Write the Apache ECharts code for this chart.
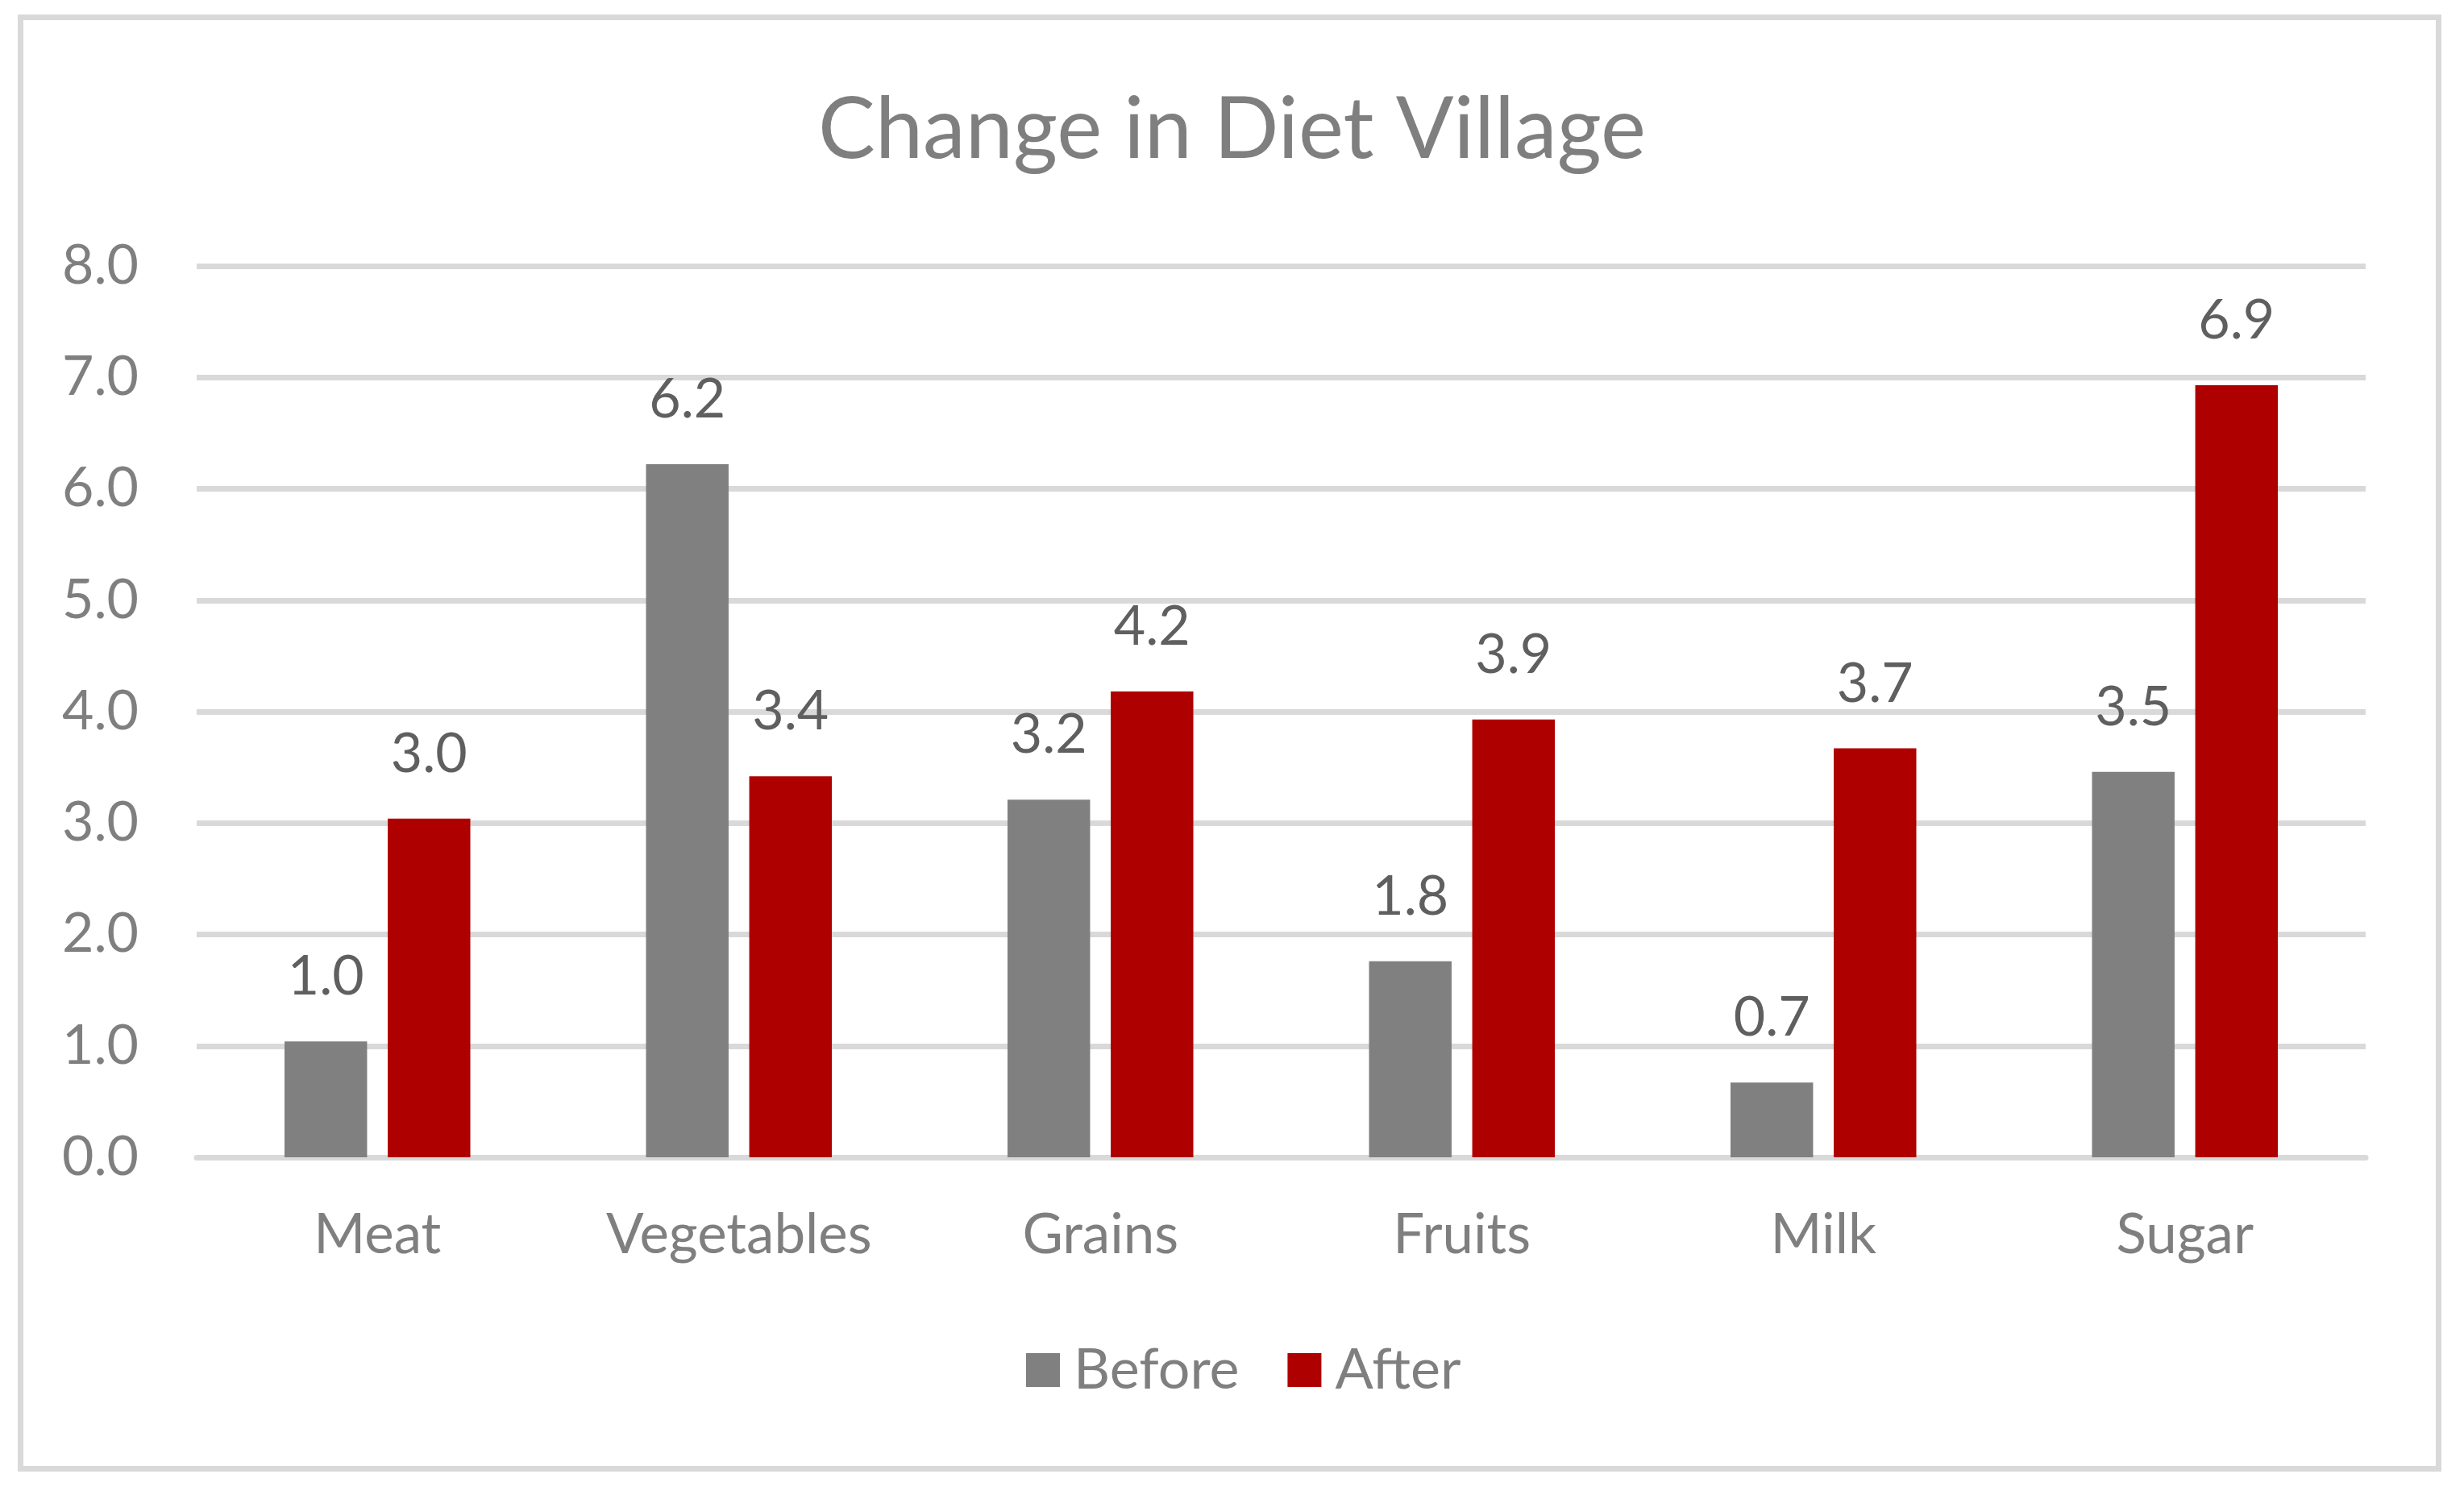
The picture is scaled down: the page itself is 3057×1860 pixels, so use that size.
<!DOCTYPE html>
<html>
<head>
<meta charset="utf-8">
<script src="https://cdn.jsdelivr.net/npm/echarts@6/dist/echarts.min.js"></script>
<style>
html,body{margin:0;padding:0;background:#fff;}
#chart{width:3057px;height:1860px;}
</style>
</head>
<body>
<div id="chart"></div>
<script>
const titleText = 'Change in Diet Village';
const categories = ['Meat', 'Vegetables', 'Grains', 'Fruits', 'Milk', 'Sugar'];
const seriesNames = ['Before', 'After'];
const beforeValues = [1.04, 6.22, 3.21, 1.76, 0.67, 3.46];
const afterValues = [3.04, 3.42, 4.18, 3.93, 3.67, 6.93];
const yTicks = { min: 0, max: 8, interval: 1 };

const FONT = 'Lato, "Open Sans", sans-serif';
const chart = echarts.init(document.getElementById('chart'), null, { renderer: 'canvas' });

const labelStyle = {
  show: true,
  position: 'top',
  distance: 46,
  color: '#5f5f5f',
  fontFamily: FONT,
  fontSize: 68,
  formatter: p => p.value.toFixed(1)
};

chart.setOption({
  backgroundColor: '#ffffff',
  animation: false,
  graphic: [{
    type: 'rect',
    shape: { x: 25.5, y: 21.5, width: 3000, height: 1801 },
    style: { fill: 'none', stroke: '#d9d9d9', lineWidth: 7 },
    silent: true
  }],
  title: {
    text: titleText,
    left: 'center',
    top: 104,
    textStyle: { color: '#7f7f7f', fontFamily: FONT, fontSize: 106, fontWeight: 'normal' }
  },
  legend: {
    data: seriesNames,
    left: 1268,
    top: 1660,
    itemWidth: 42,
    itemHeight: 42,
    itemGap: 60,
    icon: 'rect',
    textStyle: { color: '#7f7f7f', fontFamily: FONT, fontSize: 70, padding: [0, 0, 0, 12] }
  },
  grid: { left: 244, right: 122, top: 330, bottom: 424, containLabel: false },
  xAxis: {
    type: 'category',
    data: categories,
    axisLine: { show: true, lineStyle: { color: '#d9d9d9', width: 7 } },
    axisTick: { show: false },
    axisLabel: { color: '#7f7f7f', fontFamily: FONT, fontSize: 69, margin: 62 },
    splitLine: { show: false }
  },
  yAxis: {
    type: 'value',
    min: yTicks.min,
    max: yTicks.max,
    interval: yTicks.interval,
    axisLine: { show: false },
    axisTick: { show: false },
    axisLabel: { color: '#7f7f7f', fontFamily: FONT, fontSize: 68, margin: 72, formatter: v => v.toFixed(1) },
    splitLine: { show: true, lineStyle: { color: '#d9d9d9', width: 7 } }
  },
  series: [
    {
      name: seriesNames[0],
      type: 'bar',
      data: beforeValues,
      itemStyle: { color: '#808080' },
      barGap: '25%',
      barCategoryGap: '48.6%',
      label: labelStyle
    },
    {
      name: seriesNames[1],
      type: 'bar',
      data: afterValues,
      itemStyle: { color: '#af0000' },
      barGap: '25%',
      barCategoryGap: '48.6%',
      label: labelStyle
    }
  ]
});
</script>
</body>
</html>
